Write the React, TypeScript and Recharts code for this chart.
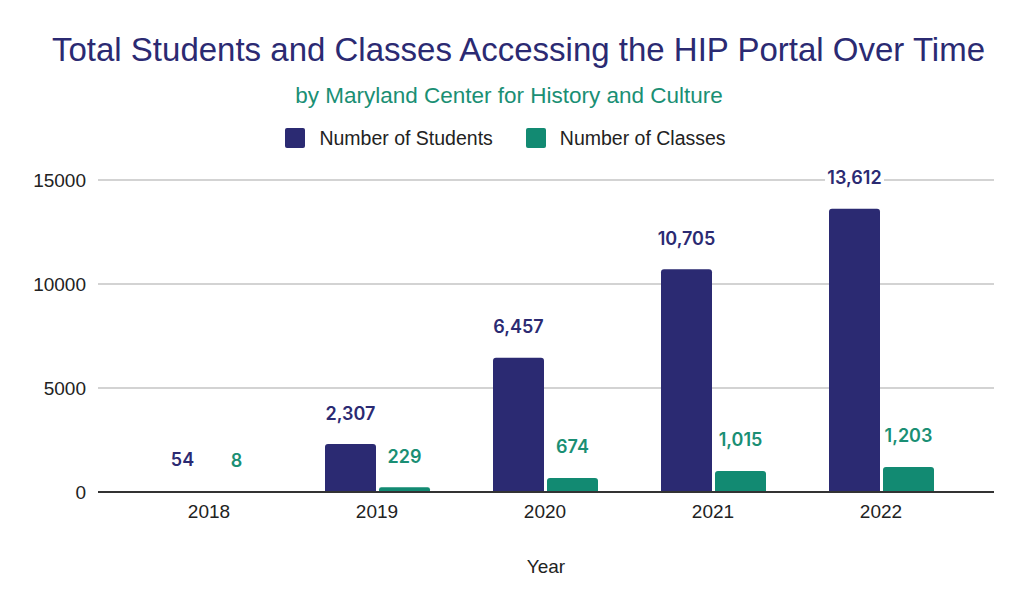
import React from 'react';
import {
  BarChart,
  Bar,
  XAxis,
  YAxis,
  CartesianGrid,
  LabelList,
} from 'recharts';

const years = ['2018', '2019', '2020', '2021', '2022'];
const students = [54, 2307, 6457, 10705, 13612];
const classes = [8, 229, 674, 1015, 1203];
const yTicks = [0, 5000, 10000, 15000];

const NAVY = '#2b2a72';
const TEAL = '#128a72';
const TEAL_TEXT = '#1a8f74';

const data = years.map((year, i) => ({
  year,
  students: students[i],
  classes: classes[i],
}));

const series = [
  { key: 'students', name: 'Number of Students', color: NAVY, text: NAVY },
  { key: 'classes', name: 'Number of Classes', color: TEAL, text: TEAL_TEXT },
];

const FONT = '"Liberation Sans", Arial, sans-serif';
const LABEL_FONT = 'Inter, Roboto, sans-serif';

// value label floating above each bar, with a tight white backing so gridlines break behind it
const makeLabel = (color: string) => (props: any) => {
  const { x, y, width, value } = props;
  const text = Number(value).toLocaleString('en-US');
  const cx = x + width / 2;
  const cy = y - 31;
  const w = text.length * 9.5 + 2;
  return (
    <g>
      <rect x={cx - w / 2} y={cy - 10} width={w} height={20} fill="#fff" />
      <text
        x={cx}
        y={cy}
        textAnchor="middle"
        dominantBaseline="central"
        fill={color}
        fontSize={18}
        fontWeight={600}
        fontFamily={LABEL_FONT}
      >
        {text}
      </text>
    </g>
  );
};

export default function App() {
  return (
    <div
      style={{
        position: 'absolute',
        left: 0,
        top: 0,
        width: 1024,
        height: 609,
        background: '#fff',
        fontFamily: FONT,
      }}
    >
      <div
        style={{
          position: 'absolute',
          top: 29,
          left: 0,
          width: 1024,
          textAlign: 'center',
          fontSize: 33,
          color: NAVY,
          lineHeight: '42px',
          paddingLeft: 13,
          boxSizing: 'border-box',
          whiteSpace: 'nowrap',
        }}
      >
        Total Students and Classes Accessing the HIP Portal Over Time
      </div>
      <div
        style={{
          position: 'absolute',
          top: 82,
          left: 0,
          width: 1024,
          textAlign: 'center',
          fontSize: 22.5,
          color: TEAL_TEXT,
          lineHeight: '28px',
          paddingRight: 6,
          boxSizing: 'border-box',
        }}
      >
        by Maryland Center for History and Culture
      </div>
      <div
        style={{
          position: 'absolute',
          top: 128,
          left: 0,
          width: 1024,
          display: 'flex',
          justifyContent: 'center',
          paddingRight: 13,
          boxSizing: 'border-box',
          fontSize: 19.5,
          color: '#222',
        }}
      >
        {series.map((s, i) => (
          <div
            key={s.key}
            style={{
              display: 'flex',
              alignItems: 'center',
              marginLeft: i === 0 ? 0 : 33,
            }}
          >
            <span
              style={{
                display: 'inline-block',
                width: 20,
                height: 20,
                borderRadius: 2,
                background: s.color,
                marginRight: 14,
              }}
            />
            <span style={{ lineHeight: '20px' }}>{s.name}</span>
          </div>
        ))}
      </div>
      <BarChart
        width={1024}
        height={609}
        data={data}
        margin={{ top: 180, right: 30, left: 18, bottom: 77 }}
        barSize={51}
        barGap={3}
      >
        <CartesianGrid vertical={false} stroke="#d3d3d3" strokeWidth={2} />
        <XAxis
          dataKey="year"
          padding={{ left: 27, right: 29 }}
          axisLine={{ stroke: '#333', strokeWidth: 2 }}
          tickLine={false}
          tickMargin={7}
          height={40}
          tick={{ fill: '#222', fontSize: 19, fontFamily: FONT }}
        />
        <YAxis
          width={80}
          domain={[0, 15000]}
          ticks={yTicks}
          axisLine={false}
          tickLine={false}
          tickMargin={6}
          tick={{ fill: '#222', fontSize: 19, fontFamily: FONT }}
        />
        {series.map((s) => (
          <Bar
            key={s.key}
            dataKey={s.key}
            name={s.name}
            fill={s.color}
            radius={[3, 3, 0, 0]}
            isAnimationActive={false}
          >
            <LabelList dataKey={s.key} content={makeLabel(s.text)} />
          </Bar>
        ))}
      </BarChart>
      <div
        style={{
          position: 'absolute',
          top: 556,
          left: 98,
          width: 896,
          textAlign: 'center',
          fontSize: 19,
          color: '#222',
          lineHeight: '22px',
        }}
      >
        Year
      </div>
    </div>
  );
}
